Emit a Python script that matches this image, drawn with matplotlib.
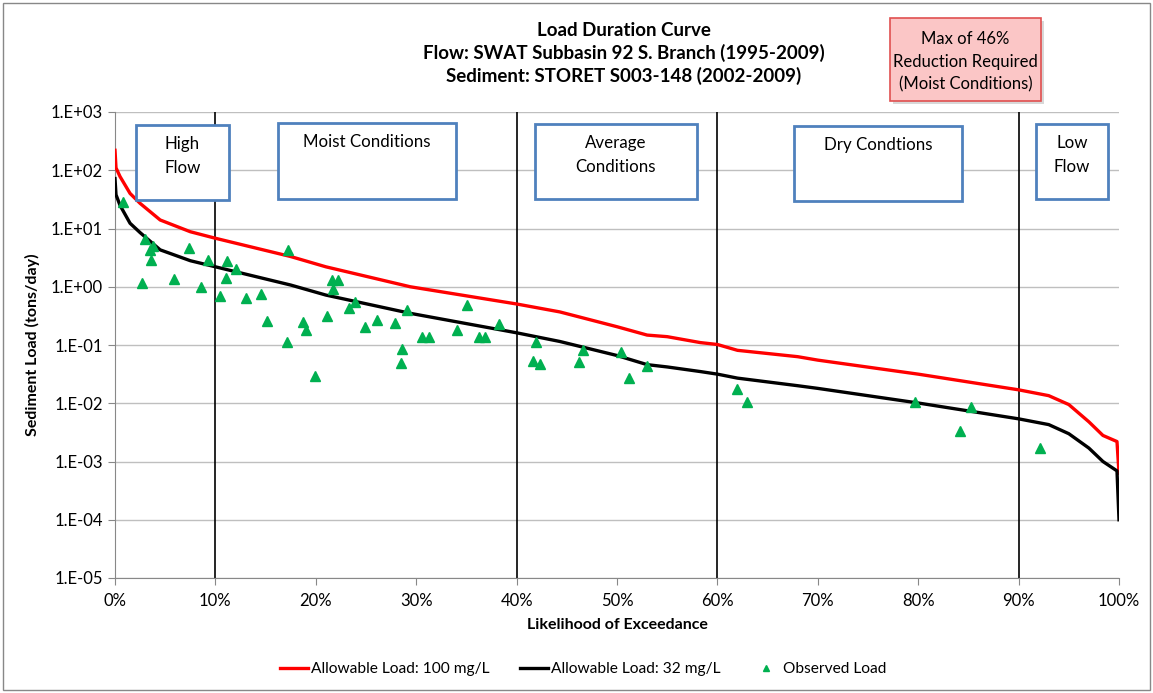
import matplotlib.pyplot as plt
from matplotlib.patches import Rectangle
from matplotlib.ticker import FixedLocator, NullLocator

# 곡선 데이터 (% exceedance, tons/day)
curve_x = [0, 0.1, 0.5, 1.5, 2.5, 4.5, 7.5, 10, 17.5, 21, 29.4, 40, 44.3, 50, 53, 55,
           58.3, 60, 62, 68, 70, 80, 90, 93, 95, 97, 98.4, 99.8, 100]
load_100 = [220, 110, 78, 40, 27, 14, 8.8, 6.8, 3.3, 2.2, 1.0, 0.506, 0.37, 0.206, 0.148, 0.139,
            0.11, 0.102, 0.081, 0.063, 0.055, 0.0316, 0.017, 0.0135, 0.0095, 0.0048, 0.0028, 0.0022, 0.00063]
load_32 = [72, 38, 25, 12.3, 8.5, 4.3, 2.8, 2.2, 1.07, 0.72, 0.35, 0.162, 0.115, 0.066, 0.046, 0.042,
           0.035, 0.0316, 0.027, 0.02, 0.018, 0.0101, 0.0054, 0.0043, 0.003, 0.0017, 0.001, 0.00069, 0.0001]

# 관측값
obs_x = [0.83, 3.0, 3.75, 3.5, 3.6, 2.7, 7.35, 5.9, 9.3, 8.6, 11.2, 12.05, 11.05, 10.5, 13.0, 14.5,
         17.25, 15.15, 17.1, 19.9, 18.75, 19.0, 21.15, 21.6, 22.25, 21.75, 23.3, 23.9, 24.9, 26.05,
         27.9, 28.6, 28.5, 29.05, 30.6, 31.3, 34.1, 35.1, 36.3, 36.9, 38.2, 41.9, 41.6, 42.3, 46.6,
         46.2, 50.4, 51.2, 53.0, 62.0, 62.9, 79.65, 85.3, 84.2, 92.1]
obs_load = [29, 6.5, 5.0, 4.2, 2.9, 1.15, 4.6, 1.38, 2.9, 0.98, 2.8, 2.0, 1.4, 0.7, 0.65, 0.74,
            4.3, 0.26, 0.112, 0.029, 0.25, 0.18, 0.31, 1.3, 1.3, 0.93, 0.43, 0.54, 0.20, 0.27,
            0.24, 0.087, 0.050, 0.40, 0.138, 0.135, 0.18, 0.48, 0.138, 0.135, 0.23, 0.112, 0.053,
            0.047, 0.081, 0.052, 0.077, 0.027, 0.043, 0.0176, 0.0104, 0.0104, 0.0087, 0.0034, 0.0017]

zone_lines = [10, 40, 60, 90]
y_ticks = [1e3, 1e2, 1e1, 1e0, 1e-1, 1e-2, 1e-3, 1e-4, 1e-5]
y_labels = ["1.E+03", "1.E+02", "1.E+01", "1.E+00", "1.E-01", "1.E-02", "1.E-03", "1.E-04", "1.E-05"]

plt.rcParams['font.family'] = ['Lato', 'DejaVu Sans']

W, H = 1153, 693
fig = plt.figure(figsize=(W / 100, H / 100), dpi=100)
ax = fig.add_axes([115 / W, 1 - 578 / H, (1119 - 115) / W, (578 - 112) / H])

ax.set_yscale('log')
ax.set_xlim(0, 100)
ax.set_ylim(1e-5, 1e3)

for v in zone_lines:
    ax.plot([v, v], [1e-5, 1e3], color='black', linewidth=1.2, zorder=2)

ax.plot(curve_x, load_100, color='#FF0000', linewidth=2.4, label='Allowable Load: 100 mg/L', zorder=3)
ax.plot(curve_x, load_32, color='black', linewidth=2.4, label='Allowable Load: 32 mg/L', zorder=3)
ax.plot(obs_x, obs_load, linestyle='none', marker='^', markersize=6.5, color='#00B050',
        label='Observed Load', zorder=4)

ax.yaxis.set_major_locator(FixedLocator(y_ticks))
ax.yaxis.set_minor_locator(NullLocator())
ax.set_yticklabels(y_labels)
ax.set_xticks(range(0, 101, 10))
ax.set_xticklabels([f"{v}%" for v in range(0, 101, 10)])
ax.tick_params(axis='both', labelsize=12, color='#888888', length=5)
ax.tick_params(axis='x', pad=6)
ax.grid(axis='y', color='#BFBFBF', linewidth=1)
ax.set_axisbelow(True)
for s in ['top', 'right']:
    ax.spines[s].set_visible(False)
for s in ['left', 'bottom']:
    ax.spines[s].set_color('#888888')

ax.set_xlabel("Likelihood of Exceedance", fontsize=11.5, fontweight='bold', labelpad=6)
ax.set_ylabel("Sediment Load (tons/day)", fontsize=11.5, fontweight='bold', labelpad=8)

title_lines = ["Load Duration Curve",
               "Flow: SWAT Subbasin 92 S. Branch (1995-2009)",
               "Sediment: STORET S003-148 (2002-2009)"]
for txt, py in zip(title_lines, [31, 53, 76]):
    fig.text(624 / W, 1 - py / H, txt, ha='center', va='center', fontsize=13.5, fontweight='bold')

# 구역 박스
boxes = [(136, 125, 229, 200, "High\nFlow"),
         (278, 123, 456, 199, "Moist Conditions"),
         (535, 124, 697, 199, "Average\nConditions"),
         (794, 126, 962, 201, "Dry Condtions"),
         (1036, 124, 1108, 199, "Low\nFlow")]
for x0, y0, x1, y1, txt in boxes:
    fig.patches.append(Rectangle((x0 / W, 1 - y1 / H), (x1 - x0) / W, (y1 - y0) / H,
                                 transform=fig.transFigure, facecolor='white',
                                 edgecolor='#4F81BD', linewidth=2, zorder=5))
    fig.text((x0 + x1) / 2 / W, 1 - (y0 + 11) / H, txt, ha='center', va='top', fontsize=12.2,
             linespacing=1.65, zorder=6)

# 빨간 박스
fig.patches.append(Rectangle((893 / W, 1 - 104 / H), (1041 - 890) / W, (101 - 18) / H,
                             transform=fig.transFigure, facecolor='#D8D8D8',
                             edgecolor='none', zorder=4))
fig.patches.append(Rectangle((890 / W, 1 - 101 / H), (1041 - 890) / W, (101 - 18) / H,
                             transform=fig.transFigure, facecolor='#FBC6C6',
                             edgecolor='#E05050', linewidth=1.2, zorder=5))
fig.text(965.5 / W, 1 - 62 / H, "Max of 46%\nReduction Required\n(Moist Conditions)",
         ha='center', va='center', fontsize=12, linespacing=1.5, zorder=6)

# 외곽선
fig.patches.append(Rectangle((3 / W, 3 / H), (W - 6) / W, (H - 6) / H, transform=fig.transFigure,
                             facecolor='none', edgecolor='#888888', linewidth=1))

fig.legend(loc='center', bbox_to_anchor=(583 / W, 1 - 669 / H), ncol=3, frameon=False,
           fontsize=11.2, handlelength=1.8, columnspacing=2.0, handletextpad=0.2, markerscale=0.7)

fig.savefig("out.png", dpi=100)
